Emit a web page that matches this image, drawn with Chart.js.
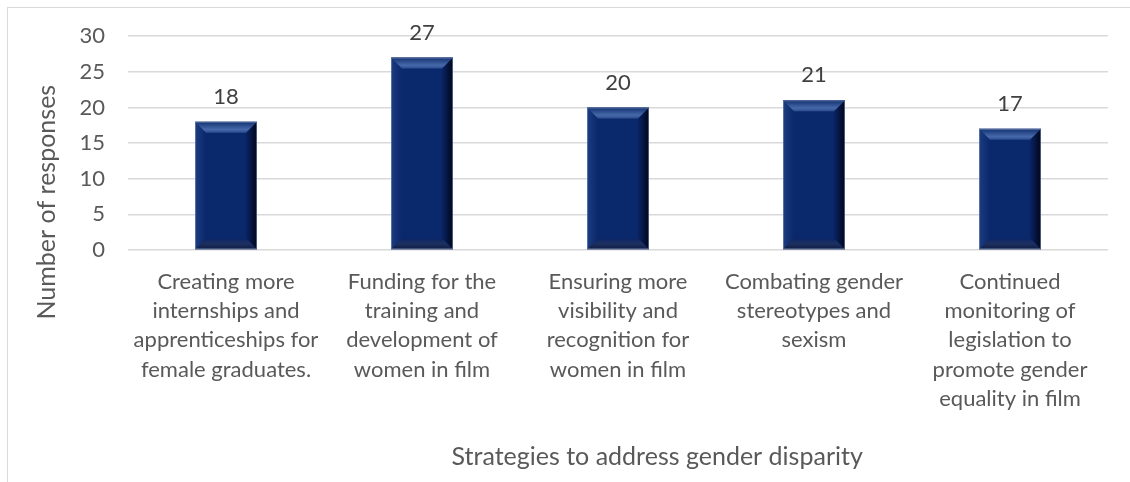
<!DOCTYPE html>
<html><head><meta charset="utf-8">
<script src="https://cdn.jsdelivr.net/npm/chart.js@4.4.1/dist/chart.umd.min.js"></script>
<style>
html,body{margin:0;padding:0;background:#fff;}
#wrap{position:relative;width:1130px;height:482px;overflow:hidden;background:#fff;}
#frame{position:absolute;left:7px;top:7px;width:1300px;height:700px;border-left:1.5px solid #d9d9d9;border-top:1.5px solid #d9d9d9;}
canvas{position:absolute;left:0;top:0;}
</style></head><body>
<div id="wrap"><div id="frame"></div><canvas id="c" width="1130" height="482"></canvas></div>
<script>
const categories = [
  ["Creating more", "internships and", "apprenticeships for", "female graduates."],
  ["Funding for the", "training and", "development of", "women in film"],
  ["Ensuring more", "visibility and", "recognition for", "women in film"],
  ["Combating gender", "stereotypes and", "sexism"],
  ["Continued", "monitoring of", "legislation to", "promote gender", "equality in film"]
];
const responses = [18, 27, 20, 21, 17];
const yTickValues = [0, 5, 10, 15, 20, 25, 30];
const xTitle = "Strategies to address gender disparity";
const yTitle = "Number of responses";

const FONT = "Lato";
const TEXT = "#595959";

const bevelPlugin = {
  id: 'bevel',
  afterDatasetsDraw(chart) {
    const ctx = chart.ctx;
    chart.getDatasetMeta(0).data.forEach(bar => {
      const p = bar.getProps(['x', 'y', 'base', 'width'], true);
      const l = p.x - p.width / 2, r = p.x + p.width / 2, t = p.y, b = p.base;
      const s = Math.min(11, p.width / 4, (b - t) / 3);
      ctx.save();
      // left
      let g = ctx.createLinearGradient(l, 0, l + s, 0);
      g.addColorStop(0, '#1c3d80'); g.addColorStop(1, '#0a276a');
      ctx.fillStyle = g;
      ctx.beginPath(); ctx.moveTo(l, t); ctx.lineTo(l + s, t + s); ctx.lineTo(l + s, b - s); ctx.lineTo(l, b); ctx.closePath(); ctx.fill();
      // right
      g = ctx.createLinearGradient(r - s, 0, r, 0);
      g.addColorStop(0, '#0a2463'); g.addColorStop(0.6, '#04123a'); g.addColorStop(1, '#000616');
      ctx.fillStyle = g;
      ctx.beginPath(); ctx.moveTo(r, t); ctx.lineTo(r, b); ctx.lineTo(r - s, b - s); ctx.lineTo(r - s, t + s); ctx.closePath(); ctx.fill();
      // bottom
      g = ctx.createLinearGradient(0, b - s, 0, b);
      g.addColorStop(0, '#0b2666'); g.addColorStop(0.5, '#1e3060'); g.addColorStop(1, '#0d1c44');
      ctx.fillStyle = g;
      ctx.beginPath(); ctx.moveTo(l, b); ctx.lineTo(r, b); ctx.lineTo(r - s, b - s); ctx.lineTo(l + s, b - s); ctx.closePath(); ctx.fill();
      // top
      g = ctx.createLinearGradient(0, t, 0, t + s);
      g.addColorStop(0, '#12306f'); g.addColorStop(0.7, '#4669aa'); g.addColorStop(1, '#2c4d90');
      ctx.fillStyle = g;
      ctx.beginPath(); ctx.moveTo(l, t); ctx.lineTo(r, t); ctx.lineTo(r - s, t + s); ctx.lineTo(l + s, t + s); ctx.closePath(); ctx.fill();
      ctx.strokeStyle = 'rgba(140,160,200,0.55)';
      ctx.lineWidth = 1;
      ctx.strokeRect(l + 0.5, t + 0.5, p.width - 1, b - t - 1);
      ctx.restore();
    });
  }
};

const valueLabelPlugin = {
  id: 'valueLabels',
  afterDatasetsDraw(chart) {
    const ctx = chart.ctx;
    const ds = chart.data.datasets[0];
    ctx.save();
    ctx.font = `22px ${FONT}`;
    ctx.fillStyle = '#404040';
    ctx.textAlign = 'center';
    ctx.textBaseline = 'middle';
    chart.getDatasetMeta(0).data.forEach((bar, i) => {
      const p = bar.getProps(['x', 'y'], true);
      ctx.fillText(String(ds.data[i]), p.x, p.y - 25);
    });
    ctx.restore();
  }
};

const axisTitlePlugin = {
  id: 'axisTitles',
  afterDraw(chart) {
    const ctx = chart.ctx;
    const a = chart.chartArea;
    ctx.save();
    ctx.font = `25px ${FONT}`;
    ctx.fillStyle = TEXT;
    ctx.textAlign = 'center';
    ctx.textBaseline = 'middle';
    ctx.fillText(chart.options.scales.x.title.text, a.left + (a.right - a.left) * 0.54, a.bottom + 207);
    ctx.translate(47, a.top + 166);
    ctx.rotate(-Math.PI / 2);
    ctx.fillText(chart.options.scales.y.title.text, 0, 0);
    ctx.restore();
  }
};

function build() {
  new Chart(document.getElementById('c'), {
    type: 'bar',
    data: {
      labels: categories,
      datasets: [{
        data: responses,
        backgroundColor: '#0a296c',
        borderWidth: 0,
        barPercentage: 0.316,
        categoryPercentage: 1.0
      }]
    },
    options: {
      responsive: false,
      animation: false,
      layout: { padding: { top: 36, right: 22, left: 0, bottom: 0 } },
      plugins: { legend: { display: false }, tooltip: { enabled: false } },
      scales: {
        x: {
          grid: { display: false, drawTicks: false },
          border: { display: false },
          ticks: {
            color: TEXT, font: { family: FONT, size: 22, lineHeight: 1.333 },
            padding: 17, maxRotation: 0, minRotation: 0, autoSkip: false
          },
          title: { display: false, text: xTitle },
          afterFit(s) { s.height = 232; }
        },
        y: {
          min: 0, max: 30,
          afterBuildTicks(s) { s.ticks = yTickValues.map(v => ({ value: v })); },
          grid: { color: '#d9d9d9', lineWidth: 1.5, drawTicks: false },
          border: { display: false },
          ticks: { color: TEXT, font: { family: FONT, size: 22 }, padding: 23 },
          title: { display: false, text: yTitle },
          afterFit(s) { s.width = 128; }
        }
      }
    },
    plugins: [bevelPlugin, valueLabelPlugin, axisTitlePlugin]
  });
}
if (document.fonts && document.fonts.load) {
  document.fonts.load(`22px ${FONT}`).then(build, build);
} else { build(); }
</script>
</body></html>
